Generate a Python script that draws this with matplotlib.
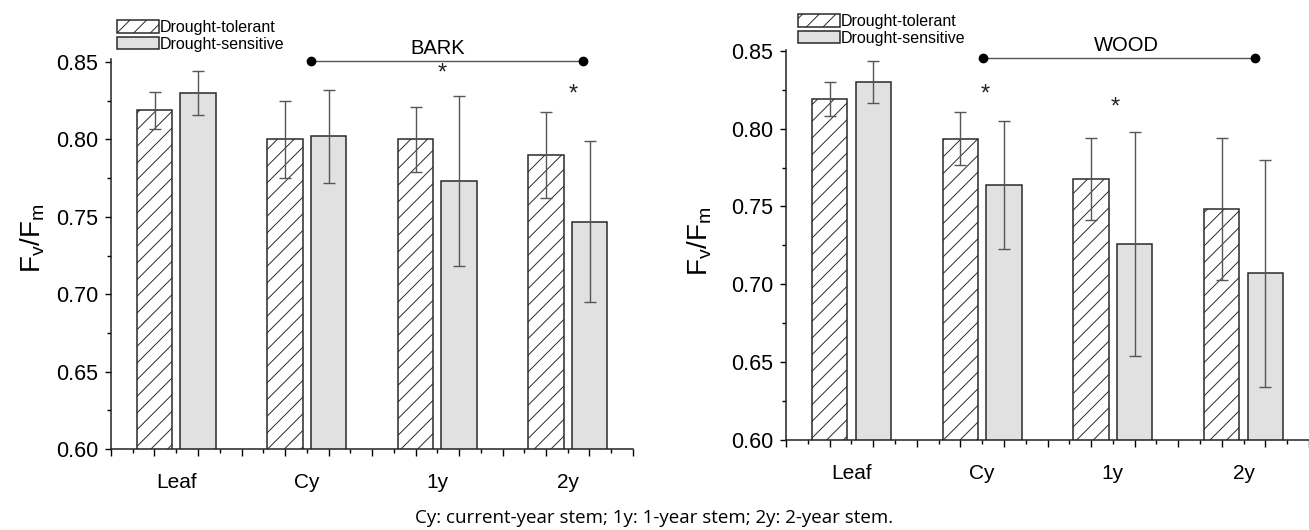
import matplotlib
matplotlib.use("Agg")
import matplotlib.pyplot as plt
import numpy as np

plt.rcParams['font.family'] = ['Liberation Sans', 'DejaVu Sans']
plt.rcParams['hatch.linewidth'] = 0.7
plt.rcParams['hatch.color'] = '#333333'

cats = ['Leaf', 'Cy', '1y', '2y']
groups = ['Drought-tolerant', 'Drought-sensitive']

bark_tol = [0.819, 0.800, 0.800, 0.790]
bark_tol_err = [0.012, 0.025, 0.021, 0.028]
bark_sen = [0.830, 0.802, 0.773, 0.747]
bark_sen_err = [0.014, 0.030, 0.055, 0.052]

wood_tol = [0.819, 0.7935, 0.7675, 0.7485]
wood_tol_err = [0.011, 0.017, 0.0265, 0.0455]
wood_sen = [0.830, 0.764, 0.726, 0.707]
wood_sen_err = [0.0135, 0.041, 0.072, 0.0727]

# significance stars: category index, height
bark_stars = [(2, 0.8424), (3, 0.829)]
wood_stars = [(1, 0.8217), (2, 0.8135)]

# bracket over the stem categories: start, end, height
bark_span = (2.03, 4.12, 0.851)
wood_span = (2.01, 4.09, 0.8454)

fig = plt.figure(figsize=(13.09, 5.30), dpi=100)

edge = '#2a2a2a'
errc = '#555555'


def panel(ax, tol, tol_err, sen, sen_err, stars, span, title, title_x, title_y, star_dx, ytop):
    x = np.arange(len(cats)) + 1
    w = 0.27
    b1 = ax.bar(x - 1/6, tol, w, color='white', edgecolor=edge,
                hatch='//', linewidth=1.1, label=groups[0])
    b2 = ax.bar(x + 1/6, sen, w, color='#e1e1e1', edgecolor=edge,
                linewidth=1.1, label=groups[1])
    ax.errorbar(x - 1/6, tol, yerr=tol_err, fmt='none', ecolor=errc,
                elinewidth=1.0, capsize=4, capthick=1.0)
    ax.errorbar(x + 1/6, sen, yerr=sen_err, fmt='none', ecolor=errc,
                elinewidth=1.0, capsize=4, capthick=1.0)

    for i, sy in stars:
        ax.text(x[i] + star_dx, sy, '*', ha='center', va='center', fontsize=17,
                color='#222222')

    x0, x1, ly = span
    ax.plot([x0, x1], [ly, ly], '-', color='#555555', lw=1.0, clip_on=False, zorder=5)
    ax.plot([x0, x1], [ly, ly], 'o', color='black', ms=6, clip_on=False, zorder=6)
    ax.text(title_x, title_y, title, ha='center', va='center', fontsize=14.5,
            clip_on=False)

    ax.set_xlim(0.5, 4.5)
    ax.set_ylim(0.6, ytop)
    yt = np.arange(0.60, 0.851, 0.05)
    ax.set_yticks(yt)
    ax.set_yticks(np.arange(0.625, 0.851, 0.05), minor=True)
    ax.set_yticklabels(['%.2f' % v for v in yt])

    ax.set_xticks(x)
    ax.set_xticklabels(cats)
    long_ticks = 0.5 + np.arange(13) / 3
    ax.set_xticks(long_ticks, minor=True)
    ax.tick_params(axis='x', which='major', length=2.6, width=1.0,
                   labelsize=15, pad=15, direction='out')
    ax.tick_params(axis='x', which='minor', length=5, width=1.0,
                   direction='out')
    ax.tick_params(axis='y', which='major', length=4, width=1.0,
                   labelsize=15.5, pad=5, direction='out')
    ax.tick_params(axis='y', which='minor', length=2.6, width=1.0,
                   direction='out')

    sec = ax.secondary_xaxis('bottom')
    short = [t for t in 0.5 + np.arange(25) / 6
             if min(abs(t - long_ticks)) > 0.01 and min(abs(t - x)) > 0.01]
    sec.set_xticks(short)
    sec.set_xticklabels([])
    sec.tick_params(length=2.6, width=1.0, direction='out')
    sec.spines['bottom'].set_visible(False)

    for s in ['top', 'right']:
        ax.spines[s].set_visible(False)
    for s in ['left', 'bottom']:
        ax.spines[s].set_linewidth(1.1)
        ax.spines[s].set_color('#222222')

    ax.set_ylabel(r'F$_\mathregular{v}$/F$_\mathregular{m}$', fontsize=20)
    return b1, b2


ax1 = fig.add_axes([111 / 1309, 1 - 449 / 530, 522 / 1309, 390 / 530])
h = panel(ax1, bark_tol, bark_tol_err, bark_sen, bark_sen_err, bark_stars,
          bark_span, 'BARK', 3.0, 0.8587, 0.04, 0.852)
ax1.yaxis.set_label_coords(-0.122, 0.54)
fig.legend(h, groups, loc='upper left', bbox_to_anchor=(117 / 1309, 1 - 20 / 530),
           frameon=False, fontsize=11.5, handlelength=2.6, handleheight=0.8,
           handletextpad=0.1, labelspacing=0.1, borderpad=0, borderaxespad=0)

ax2 = fig.add_axes([786 / 1309, 1 - 440 / 530, 523 / 1309, 390 / 530])
h = panel(ax2, wood_tol, wood_tol_err, wood_sen, wood_sen_err, wood_stars,
          wood_span, 'WOOD', 3.1, 0.8533, 0.02, 0.8505)
ax2.yaxis.set_label_coords(-0.137, 0.51)
fig.legend(h, groups, loc='upper left', bbox_to_anchor=(798 / 1309, 1 - 14 / 530),
           frameon=False, fontsize=11.5, handlelength=2.6, handleheight=0.8,
           handletextpad=0.1, labelspacing=0.1, borderpad=0, borderaxespad=0)

fig.text(0.5, 1 - 518 / 530, 'Cy: current-year stem; 1y: 1-year stem; 2y: 2-year stem.',
         ha='center', va='center', fontsize=13.5, family=['Open Sans', 'DejaVu Sans'])

fig.savefig('out.png', dpi=100)
